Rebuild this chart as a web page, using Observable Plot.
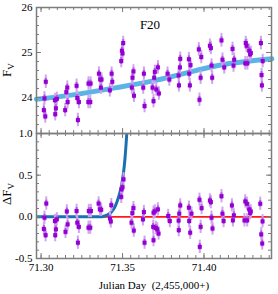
<!DOCTYPE html>
<html><head><meta charset="utf-8">
<script src="https://cdn.jsdelivr.net/npm/d3@7"></script>
<script src="https://cdn.jsdelivr.net/npm/@observablehq/plot@0.6"></script>
<style>
body{margin:0;background:#fff;}
#wrap{position:relative;width:278px;height:294px;overflow:hidden;font-family:"Liberation Serif","DejaVu Serif",serif;}
#wrap svg{position:absolute;left:0;}
</style></head><body><div id="wrap"></div>
<script>
// ---- data ----
const topJD = [71.3029,71.3021,71.3017,71.3026,71.3085,71.3091,71.3087,71.3097,71.3155,71.3161,71.3163,71.3148,
71.3218,71.3222,71.3232,71.3226,71.3291,71.3304,71.3290,71.3302,71.3355,71.3363,71.3371,71.3367,71.3433,71.3437,71.3422,
71.3492,71.3496,71.3500,71.3504,71.3561,71.3567,71.3557,71.3570,71.3631,71.3627,71.3635,71.3698,71.3717,71.3694,71.3684,
71.3707,71.3723,71.3690,71.3776,71.3787,71.3854,71.3852,71.3844,71.3846,71.3907,71.3917,71.3909,71.3913,71.3968,71.3983,
71.3979,71.3972,71.4036,71.4042,71.4046,71.4050,71.4107,71.4113,71.4124,71.4175,71.4185,71.4181,71.4256,71.4261,71.4277,
71.4287,71.4283,71.4253,71.4266,71.4349,71.4360,71.4353,71.4355];
const topF = [24.35,23.98,23.72,23.58,23.94,23.76,23.63,23.97,24.12,24.22,23.90,23.72,
24.26,23.99,23.90,23.50,24.31,24.31,23.90,23.90,24.53,24.40,24.40,24.22,24.53,24.35,24.16,
24.81,25.04,24.98,25.21,24.44,24.58,24.22,24.04,24.53,24.22,23.81,24.57,24.67,24.44,24.22,
24.18,24.09,23.92,24.53,24.40,24.86,24.67,24.49,24.27,24.85,24.72,24.53,24.27,25.07,24.90,
24.44,23.95,25.15,25.10,24.71,24.44,25.27,24.84,24.67,25.08,24.84,24.71,25.21,25.15,25.04,
24.99,24.96,24.76,24.76,25.21,24.81,24.50,24.27];

const resJD = [71.3032,71.3021,71.3017,71.3028,71.3085,71.3097,71.3091,71.3087,71.3158,71.3163,71.3150,
71.3218,71.3222,71.3232,71.3226,71.3293,71.3306,71.3291,71.3302,71.3353,71.3361,71.3369,71.3431,71.3423,71.3428,
71.3492,71.3494,71.3500,71.3506,71.3560,71.3567,71.3555,71.3569,71.3631,71.3625,71.3635,
71.3690,71.3698,71.3717,71.3688,71.3704,71.3713,71.3721,71.3690,71.3780,71.3790,
71.3854,71.3848,71.3844,71.3845,71.3907,71.3923,71.3909,71.3915,71.3972,71.3985,71.3979,71.3974,
71.4036,71.4042,71.4046,71.4052,71.4107,71.4113,71.4120,71.4171,71.4183,71.4177,
71.4253,71.4263,71.4277,71.4287,71.4283,71.4248,71.4265,71.4345,71.4359,71.4351,71.4357];
const resF = [0.16,-0.01,-0.145,-0.22,-0.05,-0.03,-0.15,-0.22,0.065,-0.09,-0.18,
0.07,-0.07,-0.12,-0.31,0.07,0.07,-0.13,-0.13,0.16,0.09,0.085,0.14,-0.02,-0.055,
0.24,0.33,0.355,0.45,0.045,0.105,-0.07,-0.165,0.057,-0.03,-0.31,
0.05,0.065,0.09,-0.12,-0.133,-0.15,-0.2,-0.28,0.01,-0.05,
0.137,0.038,-0.045,-0.16,0.11,0.038,-0.05,-0.19,0.205,0.105,-0.12,-0.36,
0.196,0.176,-0.01,-0.14,0.248,0.038,-0.05,0.137,0.018,-0.042,
0.185,0.157,0.089,0.065,0.045,-0.042,-0.042,0.157,-0.054,-0.21,-0.32];

const fitJD = [71.2972,71.3218,71.3463,71.3702,71.3917,71.4132,71.4416];
const fitF  = [23.96,24.07,24.22,24.38,24.57,24.74,24.86];

const modelJD = [71.2972,71.3200,71.3365,71.3390,71.3414,71.3433,71.3451,71.3466,71.3482,71.3494,71.3506,71.3515,71.3526];
const modelF  = [0,0,0,0.01,0.03,0.06,0.11,0.18,0.28,0.38,0.53,0.70,1.0];

const errTop = 0.15, errBot = 0.08;

const majorX = [71.30, 71.35, 71.40];
const minorX = d3.range(0, 29).map(i => 71.30 + i * 0.005);
const topMajorY = [24, 25, 26];
const topMinorY = d3.range(0, 14).map(i => 23.4 + i * 0.2);
const botMajorY = [-0.5, 0.0, 0.5, 1.0];
const botMinorY = d3.range(0, 16).map(i => -0.5 + i * 0.1);

// ---- build tables ----
const topData = topJD.map((x, i) => ({x, y: topF[i]}));
const resData = resJD.map((x, i) => ({x, y: resF[i]}));
const fitData = fitJD.map((x, i) => ({x, y: fitF[i]}));
const modelData = modelJD.map((x, i) => ({x, y: modelF[i]}));

const W = 278, ML = 36, MR = 7;
const xDomain = [71.2972, 71.4414];
const PW = W - ML - MR;
const axisColor = "#7d7d7d";
const font = "Liberation Serif, DejaVu Serif, serif";
const style = {fontFamily: font, fontSize: "11px", background: "transparent", color: "#000", overflow: "visible"};

function tickMarks(PH, xMinor, xMajor, yMinor, yMajor) {
  const s = {stroke: axisColor, strokeWidth: 1};
  return [
    Plot.tickX(xMinor, {x: d => d, insetBottom: PH - 3, ...s}),
    Plot.tickX(xMinor, {x: d => d, insetTop: PH - 3, ...s}),
    Plot.tickX(xMajor, {x: d => d, insetBottom: PH - 5, ...s}),
    Plot.tickX(xMajor, {x: d => d, insetTop: PH - 5, ...s}),
    Plot.tickY(yMinor, {y: d => d, insetRight: PW - 3, ...s}),
    Plot.tickY(yMinor, {y: d => d, insetLeft: PW - 3, ...s}),
    Plot.tickY(yMajor, {y: d => d, insetRight: PW - 5, ...s}),
    Plot.tickY(yMajor, {y: d => d, insetLeft: PW - 5, ...s})
  ];
}

const topH = 134, topMT = 7, topMB = 1;
const topPH = topH - topMT - topMB;
const topPlot = Plot.plot({
  width: W, height: topH, marginTop: topMT, marginBottom: topMB, marginLeft: ML, marginRight: MR,
  style,
  x: {domain: xDomain, axis: null},
  y: {domain: [23.2, 26]},
  marks: [
    Plot.line(fitData, {x: "x", y: "y", stroke: "#5cb4e6", strokeWidth: 5, curve: "natural"}),
    Plot.ruleX(topData, {x: "x", y1: d => d.y - errTop, y2: d => d.y + errTop, stroke: "#d2a4f0", strokeWidth: 2}),
    Plot.ruleX(topData, {x: "x", y1: d => d.y - errTop / 2, y2: d => d.y + errTop / 2, stroke: "#ac5ae2", strokeWidth: 2}),
    Plot.dot(topData, {x: "x", y: "y", fill: "#9400d3", r: 2.3, symbol: "square"}),
    ...tickMarks(topPH, minorX, majorX, topMinorY, topMajorY),
    Plot.frame({stroke: axisColor, strokeWidth: 1.5}),
    Plot.axisY({ticks: topMajorY, tickSize: 0, tickPadding: 4, tickFormat: d => String(d), label: null, fontSize: 11}),
    Plot.text(["F20"], {text: d => d, frameAnchor: "top", lineAnchor: "bottom", dx: -4, dy: 21.5, fontSize: 13, fill: "#000"})
  ]
});
topPlot.style.top = "0px";

const botTop = 132, botH = 162, botMT = 1, botMB = 36;
const botPH = botH - botMT - botMB;
const botPlot = Plot.plot({
  width: W, height: botH, marginTop: botMT, marginBottom: botMB, marginLeft: ML, marginRight: MR,
  style,
  x: {domain: xDomain},
  y: {domain: [-0.5, 1.0]},
  marks: [
    Plot.ruleY([0], {stroke: "#ff1a1a", strokeWidth: 1.6}),
    Plot.line(modelData, {x: "x", y: "y", stroke: "#1b70b2", strokeWidth: 3, curve: "monotone-x", clip: true}),
    Plot.ruleX(resData, {x: "x", y1: d => d.y - errBot, y2: d => d.y + errBot, stroke: "#d2a4f0", strokeWidth: 2}),
    Plot.ruleX(resData, {x: "x", y1: d => d.y - errBot / 2, y2: d => d.y + errBot / 2, stroke: "#ac5ae2", strokeWidth: 2}),
    Plot.dot(resData, {x: "x", y: "y", fill: "#9400d3", r: 2.3, symbol: "square"}),
    ...tickMarks(botPH, minorX, majorX, botMinorY, botMajorY),
    Plot.frame({stroke: axisColor, strokeWidth: 1.5}),
    Plot.axisY({ticks: botMajorY, tickSize: 0, tickPadding: 4, tickFormat: d => d.toFixed(1), label: null, fontSize: 11}),
    Plot.axisX({ticks: majorX, tickSize: 0, tickPadding: 5, tickFormat: d => d.toFixed(2), label: null, fontSize: 11}),
    Plot.text(["Julian Day \u00a0(2,455,000+)"], {text: d => d, frameAnchor: "bottom", lineAnchor: "bottom", dy: 30, fontSize: 11, fill: "#000"})
  ]
});
botPlot.style.top = botTop + "px";

const wrap = document.getElementById("wrap");
wrap.appendChild(botPlot);
wrap.appendChild(topPlot);

// y-axis titles with subscripts
const ov = d3.select(wrap).append("svg")
  .attr("width", W).attr("height", 294)
  .style("top", "0px").style("pointer-events", "none")
  .style("font-family", font);
function ylab(cx, cy, main) {
  const t = ov.append("text")
    .attr("x", cx).attr("y", cy)
    .attr("transform", `rotate(-90,${cx},${cy})`)
    .attr("text-anchor", "middle")
    .attr("font-size", 13).attr("fill", "#000");
  t.append("tspan").text(main);
  t.append("tspan").attr("font-size", 9).attr("dy", 3).text("V");
}
ylab(11, 70, "F");
ylab(11, 194, "\u0394F");
</script></body></html>
